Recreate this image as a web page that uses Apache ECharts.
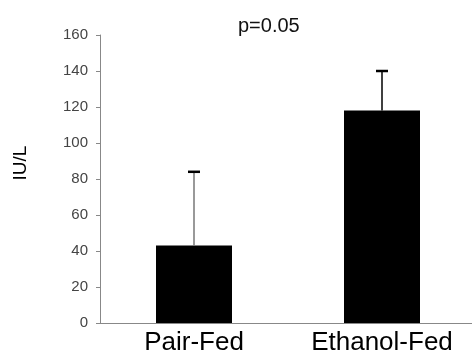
<!DOCTYPE html>
<html>
<head>
<meta charset="utf-8">
<script src="https://cdn.jsdelivr.net/npm/echarts@6/dist/echarts.min.js"></script>
<style>
  html, body { margin: 0; padding: 0; background: #fff; }
  #chart { width: 472px; height: 360px; }
</style>
</head>
<body>
<div id="chart"></div>
<script>
var groups = ['Pair-Fed', 'Ethanol-Fed'];
var means = [43, 118];
var upper = [84, 140];
var errColors = ['#777777', '#000000'];

var errData = [];
for (var i = 0, l = groups.length; i < l; i++) {
    errData[i] = [i, means[i], upper[i]];
}

var myChart = echarts.init(document.getElementById('chart'));

var option = {
    animation: false,
    title: {
        text: 'p=0.05',
        left: 233,
        top: 11,
        textStyle: {
            fontFamily: 'Liberation Sans',
            fontSize: 20,
            fontWeight: 'normal',
            color: '#111'
        }
    },
    grid: {
        left: 100,
        right: -4,
        top: 35,
        bottom: 37,
        containLabel: false,
        outerBoundsMode: 'none'
    },
    xAxis: {
        type: 'category',
        data: groups,
        axisLine: { lineStyle: { color: '#888', width: 1 } },
        axisTick: { length: 7, lineStyle: { color: '#888' } },
        axisLabel: {
            interval: 0,
            hideOverlap: false,
            margin: 7,
            fontFamily: 'Liberation Sans',
            fontSize: 26,
            color: '#000'
        }
    },
    yAxis: {
        type: 'value',
        min: 0,
        max: 160,
        interval: 20,
        name: 'IU/L',
        nameLocation: 'middle',
        nameRotate: 90,
        nameGap: 70,
        nameTextStyle: {
            fontFamily: 'Liberation Sans',
            fontSize: 19,
            color: '#000',
            padding: [0, 0, 0, 32]
        },
        axisLine: { show: true, lineStyle: { color: '#888', width: 1 } },
        axisTick: { show: true, length: 4, lineStyle: { color: '#888' } },
        splitLine: { show: false },
        axisLabel: {
            margin: 12,
            fontFamily: 'Liberation Sans',
            fontSize: 15,
            color: '#444'
        }
    },
    series: [
        {
            type: 'bar',
            data: means,
            barWidth: 76,
            itemStyle: { color: '#000' }
        },
        {
            type: 'custom',
            data: errData,
            z: 10,
            renderItem: function (params, api) {
                var x = api.value(0);
                var bottom = api.coord([x, api.value(1)]);
                var top = api.coord([x, api.value(2)]);
                var c = errColors[params.dataIndex];
                return {
                    type: 'group',
                    children: [
                        {
                            type: 'line',
                            shape: { x1: top[0], y1: bottom[1], x2: top[0], y2: top[1] },
                            style: { stroke: c, lineWidth: 1.5 }
                        },
                        {
                            type: 'line',
                            shape: { x1: top[0] - 6, y1: top[1], x2: top[0] + 6, y2: top[1] },
                            style: { stroke: '#000', lineWidth: 2.5 }
                        }
                    ]
                };
            }
        }
    ]
};

myChart.setOption(option);
</script>
</body>
</html>
